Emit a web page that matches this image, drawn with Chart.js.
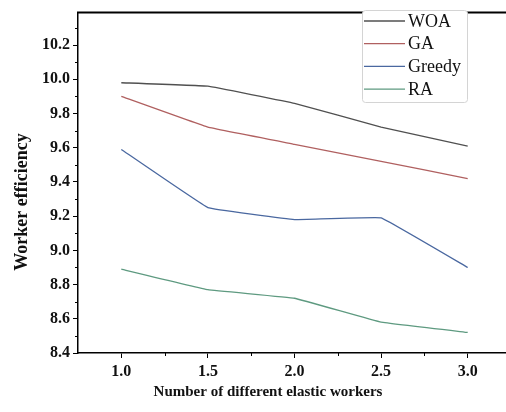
<!DOCTYPE html>
<html>
<head>
<meta charset="utf-8">
<script src="https://cdn.jsdelivr.net/npm/chart.js@4/dist/chart.umd.min.js"></script>
<style>
  html, body { margin: 0; padding: 0; background: #fff; overflow: hidden; }
  #wrap { width: 520px; height: 412px; position: relative; }
  .preload { position: absolute; left: 0; top: 420px; font-family: 'Liberation Serif'; }
</style>
</head>
<body>
<div class="preload"><b>Worker 10.2</b> <span>WOA Greedy</span></div>
<div id="wrap"><canvas id="myChart" width="520" height="412"></canvas></div>
<script>
const workers = [1.0, 1.5, 2.0, 2.5, 3.0];
const woa = [9.98, 9.96, 9.86, 9.72, 9.61];
const ga = [9.90, 9.72, 9.62, 9.52, 9.42];
const greedy = [9.59, 9.25, 9.18, 9.19, 8.90];
const ra = [8.89, 8.77, 8.72, 8.58, 8.52];
const xTicks = [1.0, 1.5, 2.0, 2.5, 3.0];
const yTicks = [8.4, 8.6, 8.8, 9.0, 9.2, 9.4, 9.6, 9.8, 10.0, 10.2];
const xMinor = [1.25, 1.75, 2.25, 2.75];
const yMinor = [8.5, 8.7, 8.9, 9.1, 9.3, 9.5, 9.7, 9.9, 10.1, 10.3];
const xTitle = 'Number of different elastic workers';
const yTitle = 'Worker efficiency';

const SERIF = '"Liberation Serif"';

function pts(ys) {
  return workers.map((x, i) => ({ x: x, y: ys[i] }));
}

function line(label, ys, color) {
  return {
    label: label,
    data: pts(ys),
    borderColor: color,
    backgroundColor: color,
    borderWidth: 1.3,
    pointRadius: 0,
    tension: 0.05,
    fill: false
  };
}

// minor ticks, top frame line, axis titles and the boxed legend
const extras = {
  id: 'extras',
  afterDraw(chart) {
    const ctx = chart.ctx;
    const a = chart.chartArea;
    const xs = chart.scales.x, ys = chart.scales.y;
    ctx.save();
    ctx.strokeStyle = '#000';
    ctx.lineWidth = 1;
    xMinor.forEach(v => {
      const px = Math.round(xs.getPixelForValue(v)) + 0.5;
      ctx.beginPath(); ctx.moveTo(px, a.bottom); ctx.lineTo(px, a.bottom + 3); ctx.stroke();
    });
    yMinor.forEach(v => {
      const py = Math.round(ys.getPixelForValue(v)) + 0.5;
      ctx.beginPath(); ctx.moveTo(a.left, py); ctx.lineTo(a.left - 3, py); ctx.stroke();
    });
    // top border
    ctx.lineWidth = 2;
    ctx.beginPath(); ctx.moveTo(a.left - 1, a.top); ctx.lineTo(chart.width, a.top); ctx.stroke();

    // axis titles (the original sits off-centre)
    ctx.fillStyle = '#111';
    ctx.textAlign = 'center';
    ctx.textBaseline = 'middle';
    ctx.font = 'bold 15px ' + SERIF;
    ctx.fillText(xTitle, 268, 392);
    ctx.save();
    ctx.translate(22, 202);
    ctx.rotate(-Math.PI / 2);
    ctx.font = 'bold 18px ' + SERIF;
    ctx.fillText(yTitle, 0, 0);
    ctx.restore();

    // legend
    const bx = 362, by = 10, bw = 105, bh = 92;
    ctx.fillStyle = '#fff';
    ctx.strokeStyle = '#d4d4d4';
    ctx.lineWidth = 1;
    ctx.beginPath();
    ctx.roundRect(bx + 0.5, by + 0.5, bw, bh, 3);
    ctx.fill(); ctx.stroke();
    ctx.font = '18px ' + SERIF;
    ctx.textAlign = 'left';
    ctx.textBaseline = 'middle';
    chart.data.datasets.forEach((ds, i) => {
      const y = by + 11 + i * 22.7;
      ctx.strokeStyle = ds.borderColor;
      ctx.lineWidth = 1.3;
      ctx.beginPath(); ctx.moveTo(bx + 2, y); ctx.lineTo(bx + 43, y); ctx.stroke();
      ctx.fillStyle = '#111';
      ctx.fillText(ds.label, bx + 46, y + 1);
    });
    ctx.restore();
  }
};

function build() {
  const CHART = document.getElementById('myChart');
  let myChart = new Chart(CHART, {
    type: 'line',
    data: {
      datasets: [
        line('WOA', woa, '#505050'),
        line('GA', ga, '#b06060'),
        line('Greedy', greedy, '#4a68a0'),
        line('RA', ra, '#5e9a80')
      ]
    },
    options: {
      responsive: false,
      animation: false,
      layout: { padding: { top: 4, right: 9, left: 0, bottom: 0 } },
      plugins: { legend: { display: false }, tooltip: { enabled: false } },
      scales: {
        x: {
          type: 'linear',
          min: 0.75,
          max: 3.25,
          afterBuildTicks: s => { s.ticks = xTicks.map(v => ({ value: v })); },
          afterFit: s => { s.height = 59; },
          border: { display: true, color: '#000', width: 1.5 },
          grid: { display: true, drawOnChartArea: false, drawTicks: true, tickLength: 5, tickColor: '#000' },
          ticks: {
            color: '#111',
            padding: 4,
            font: { family: SERIF, size: 16, weight: 'bold' },
            callback: v => v.toFixed(1)
          },
          title: { display: false }
        },
        y: {
          type: 'linear',
          min: 8.4,
          max: 10.39,
          afterBuildTicks: s => { s.ticks = yTicks.map(v => ({ value: v })); },
          afterFit: s => { s.width = 78; },
          border: { display: true, color: '#000', width: 1.5 },
          grid: { display: true, drawOnChartArea: false, drawTicks: true, tickLength: 5, tickColor: '#000' },
          ticks: {
            color: '#111',
            padding: 3,
            font: { family: SERIF, size: 16, weight: 'bold' },
            callback: v => v.toFixed(1)
          },
          title: { display: false }
        }
      }
    },
    plugins: [extras]
  });
}

document.fonts.ready.then(build);
</script>
</body>
</html>
